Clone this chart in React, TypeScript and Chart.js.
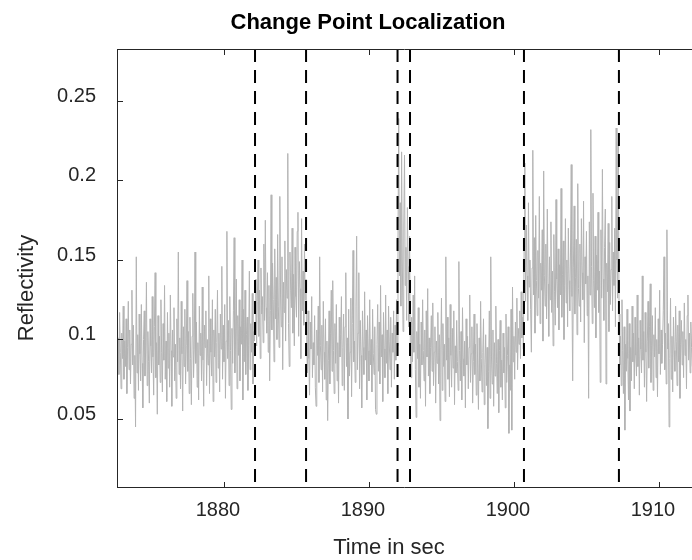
import React, { useEffect, useRef } from "react";
import { Chart, registerables } from "chart.js";

Chart.register(...registerables);

// ---- data ----
const startTime = 1872.6; // seconds, first sample
const sampleStep = 0.05; // seconds between samples

// reflectivity values in thousandths, one array per segment between change points
const seg1 = [
  112, 86, 101, 78, 117, 92, 69, 104, 88, 121,
  75, 99, 83, 113, 66, 95, 124, 81, 106, 72,
  97, 131, 84, 109, 63, 90, 45, 152, 79, 103,
  68, 116, 91, 74, 122, 85, 57, 100, 118, 77,
  94, 136, 71, 105, 86, 60, 113, 96, 79, 127,
  89, 65, 108, 142, 76, 98, 53, 115, 84, 102,
  73, 125, 92, 67, 110, 87, 134, 75, 99, 61,
  117, 82, 104, 70, 128, 93, 58, 106, 89, 120,
  74, 97, 63, 113, 86, 155, 78, 101, 69, 124,
  91, 55, 108, 83, 119, 72, 96, 137, 80, 105,
  66, 114, 88, 59, 102, 129, 76, 94, 155, 85,
  111, 70, 98, 62, 121, 90, 104, 74, 133, 87,
  58, 109, 95, 118, 71, 100, 84, 140, 66, 113,
  92, 77, 125, 61, 106, 89, 119, 73, 98, 131,
  82, 104, 67, 116, 94, 146, 75, 109, 86, 122,
  63, 99, 168, 88, 112, 71, 127, 93, 56, 107,
  85, 118, 164, 79, 101, 138, 69, 115, 90, 125,
  74, 108, 97, 150, 62, 119, 86, 131, 78, 103,
  114, 68, 96, 143, 81, 110, 92, 129, 72, 105,
  99,
];
const seg2 = [
  110, 138, 96, 124, 150, 102, 131, 88, 145, 116,
  127, 98, 160, 112, 175, 120, 104, 142, 92, 134,
  74, 118, 191, 106, 148, 125, 86, 157, 113, 139,
  100, 166, 121, 95, 190, 128, 108, 152, 81, 136,
  117, 162, 99, 144, 126, 217, 110, 83, 155, 131,
  120, 170, 104, 141, 96, 158, 127, 114, 168, 180,
  102, 149, 132, 88, 176, 118, 143, 109, 160, 125,
  138,
];
const seg3 = [
  102, 79, 118, 88, 65, 111, 94, 127, 76, 98,
  84, 115, 70, 58, 106, 90, 121, 73, 152, 96,
  81, 109, 67, 124, 92, 75, 113, 62, 99, 49,
  87, 118, 72, 104, 131, 80, 137, 93, 66, 110,
  85, 122, 74, 98, 60, 114, 89, 103, 127, 71,
  95, 116, 68, 108, 142, 83, 101, 50, 119, 77,
  92, 126, 64, 110, 156, 86, 99, 73, 121, 165,
  81, 104, 142, 69, 112, 90, 57, 118, 95, 78,
  130, 87, 106, 62, 115, 93, 74, 125, 84, 100,
  67, 119, 91, 78, 108, 56, 53, 97, 122, 80,
  111, 72, 134, 89, 103, 61, 117, 94, 76, 128,
  85, 106, 66, 121, 99, 81, 114, 70, 104, 92,
  118, 75, 109, 87, 125, 96,
];
const seg4 = [
  162, 239, 140, 186, 121, 218, 150, 105, 172, 216,
  134, 158, 112, 183, 146, 108, 165,
];
const seg5 = [
  99, 76, 114, 86, 128, 92, 140, 81, 51, 105,
  88, 120, 70, 97, 63, 111, 84, 125, 93, 74,
  106, 58, 118, 89, 132, 77, 101, 66, 95, 115,
  80, 123, 71, 92, 108, 60, 99, 85, 117, 72,
  103, 49, 94, 126, 68, 110, 83, 97, 61, 152,
  87, 114, 75, 101, 64, 122, 90, 70, 107, 82,
  118, 59, 96, 79, 112, 86, 68, 149, 93, 74,
  105, 62, 120, 88, 77, 99, 57, 113, 84, 102,
  69, 95, 128, 73, 91, 108, 60, 86, 116, 78,
  97, 65, 110, 82, 56, 101, 74, 124, 88, 67,
  92, 113, 59, 84, 103, 71, 95, 44, 80, 118,
  63, 152, 89, 72, 106, 58, 98, 77, 121, 85,
  66, 100, 54, 93, 112, 70, 87, 62, 104, 79,
  95, 57, 116, 73, 90, 108, 41, 84, 68, 119,
  43, 133, 86, 102, 75, 111, 92, 126, 81, 107,
  97, 118, 88, 130, 101, 114, 94,
];
const seg6 = [
  158, 211, 124, 172, 140, 112, 186, 133, 150, 119,
  92, 145, 219, 128, 164, 104, 178, 137, 115, 156,
  126, 190, 110, 148, 131, 169, 99, 206, 140, 121,
  160, 113, 182, 135, 102, 152, 125, 174, 117, 143,
  96, 166, 130, 109, 188, 138, 120, 157, 106, 147,
  128, 195, 114, 141, 162, 100, 134, 176, 123, 150,
  108, 170, 137, 118, 155, 210, 127, 74, 145, 184,
  116, 139, 163, 103, 198, 132, 121, 160, 111, 176,
  142, 125, 187, 98, 152, 135, 168, 115, 140, 63,
  174, 128, 232, 146, 110, 192, 137, 120, 165, 101,
  153, 131, 180, 117, 143, 73, 169, 126, 207, 138,
  112, 158, 182, 72, 148, 130, 173, 105, 161, 122,
  144, 190, 118, 155, 134, 170, 108, 233, 150, 126,
  223,
];
const seg7 = [
  116, 84, 102, 71, 125, 93, 66, 108, 43, 97,
  80, 119, 88, 62, 110, 55, 95, 74, 121, 86,
  104, 69, 114, 90, 77, 128, 83, 101, 65, 112,
  94, 79, 140, 87, 105, 70, 117, 92, 61, 99,
  124, 82, 108, 135, 73, 96, 115, 68, 103, 89,
  120, 76, 100, 64, 113, 91, 131, 78, 106, 85,
  97, 118, 152, 81, 104, 72, 169, 94, 110, 45,
  88, 126, 75, 102, 67, 114, 93, 80, 121, 99,
  71, 109, 86, 118, 63, 97, 112, 84, 105, 76,
  123, 90, 100, 69, 115, 128, 87, 104, 79, 111,
  95, 83,
];

const changePoints = [1882.14, 1885.66, 1891.97, 1892.83, 1900.69, 1907.24];

const xTicks = [1880, 1890, 1900, 1910];
const yTicks = [0.05, 0.1, 0.15, 0.2, 0.25];
const xRange = [1872.62, 1912.28];
const yRange = [0.0066, 0.2827];

const titleText = "Change Point Localization";
const xLabel = "Time in sec";
const yLabel = "Reflectivity";

// ---- styling ----
const FONT = '"Liberation Sans", Arial, Helvetica, sans-serif';
const AXIS_COLOR = "#262626";

const framePlugin = {
  id: "matlabFrame",
  afterDatasetsDraw(chart: any) {
    const { ctx, chartArea: a, scales } = chart;
    const xs = scales.x;
    const ys = scales.y;
    ctx.save();
    ctx.strokeStyle = AXIS_COLOR;
    ctx.lineWidth = 1;
    ctx.beginPath();
    ctx.moveTo(a.left + 0.5, a.top);
    ctx.lineTo(a.left + 0.5, a.bottom);
    ctx.moveTo(a.left, a.top + 0.5);
    ctx.lineTo(a.right, a.top + 0.5);
    ctx.moveTo(a.left, a.bottom - 0.5);
    ctx.lineTo(a.right, a.bottom - 0.5);
    for (const v of xTicks) {
      const px = Math.round(xs.getPixelForValue(v)) + 0.5;
      ctx.moveTo(px, a.bottom);
      ctx.lineTo(px, a.bottom - 6);
      ctx.moveTo(px, a.top);
      ctx.lineTo(px, a.top + 6);
    }
    for (const v of yTicks) {
      const py = Math.round(ys.getPixelForValue(v)) + 0.5;
      ctx.moveTo(a.left, py);
      ctx.lineTo(a.left + 6, py);
    }
    ctx.stroke();
    ctx.restore();
  },
  afterDraw(chart: any) {
    const { ctx } = chart;
    ctx.save();
    ctx.fillStyle = "#000000";
    ctx.textAlign = "center";
    ctx.textBaseline = "alphabetic";
    ctx.font = `bold 22px ${FONT}`;
    ctx.fillText(titleText, 368, 29);
    ctx.fillStyle = AXIS_COLOR;
    ctx.font = `22px ${FONT}`;
    ctx.fillText(xLabel, 389, 554);
    ctx.translate(33, 288);
    ctx.rotate(-Math.PI / 2);
    ctx.fillText(yLabel, 0, 0);
    ctx.restore();
  },
};

export default function App() {
  const canvasRef = useRef<HTMLCanvasElement | null>(null);

  useEffect(() => {
    document.body.style.margin = "0";
    const canvas = canvasRef.current;
    if (!canvas) return;

    const values = [...seg1, ...seg2, ...seg3, ...seg4, ...seg5, ...seg6, ...seg7];
    const signal = values.map((v, i) => ({ x: startTime + i * sampleStep, y: v / 1000 }));

    const dashed = changePoints.map((cp) => ({
      data: [
        { x: cp, y: yRange[1] },
        { x: cp, y: yRange[0] },
      ],
      borderColor: "#000000",
      borderWidth: 2,
      borderDash: [13, 8],
      pointRadius: 0,
      fill: false,
      order: 1,
    }));

    const chart = new Chart(canvas, {
      type: "line",
      data: {
        datasets: [
          {
            data: signal,
            borderColor: "#b3b3b3",
            borderWidth: 1,
            pointRadius: 0,
            tension: 0,
            fill: false,
            order: 2,
          },
          ...dashed,
        ],
      },
      options: {
        animation: false,
        responsive: false,
        events: [],
        layout: { padding: { top: 49, right: 0, bottom: 0, left: 0 } },
        plugins: {
          legend: { display: false },
          tooltip: { enabled: false },
          title: { display: false },
        },
        scales: {
          x: {
            type: "linear",
            min: xRange[0],
            max: xRange[1],
            grid: { display: false, drawTicks: false },
            border: { display: false },
            afterBuildTicks: (s: any) => {
              s.ticks = xTicks.map((v) => ({ value: v }));
            },
            afterFit: (s: any) => {
              s.height = 72;
            },
            ticks: {
              autoSkip: false,
              maxRotation: 0,
              padding: 10,
              labelOffset: -6,
              color: AXIS_COLOR,
              font: { family: FONT, size: 20 },
              callback: (v: any) => String(v),
            },
          },
          y: {
            type: "linear",
            min: yRange[0],
            max: yRange[1],
            grid: { display: false, drawTicks: false },
            border: { display: false },
            afterBuildTicks: (s: any) => {
              s.ticks = yTicks.map((v) => ({ value: v }));
            },
            afterFit: (s: any) => {
              s.width = 117;
            },
            ticks: {
              autoSkip: false,
              padding: 21,
              labelOffset: -5,
              color: AXIS_COLOR,
              font: { family: FONT, size: 20 },
              callback: (v: any) => String(v),
            },
          },
        },
      },
      plugins: [framePlugin],
    });

    return () => {
      chart.destroy();
    };
  }, []);

  return (
    <div style={{ width: 692, height: 560, position: "relative", overflow: "hidden" }}>
      <canvas ref={canvasRef} width={692} height={560} style={{ display: "block" }} />
    </div>
  );
}
